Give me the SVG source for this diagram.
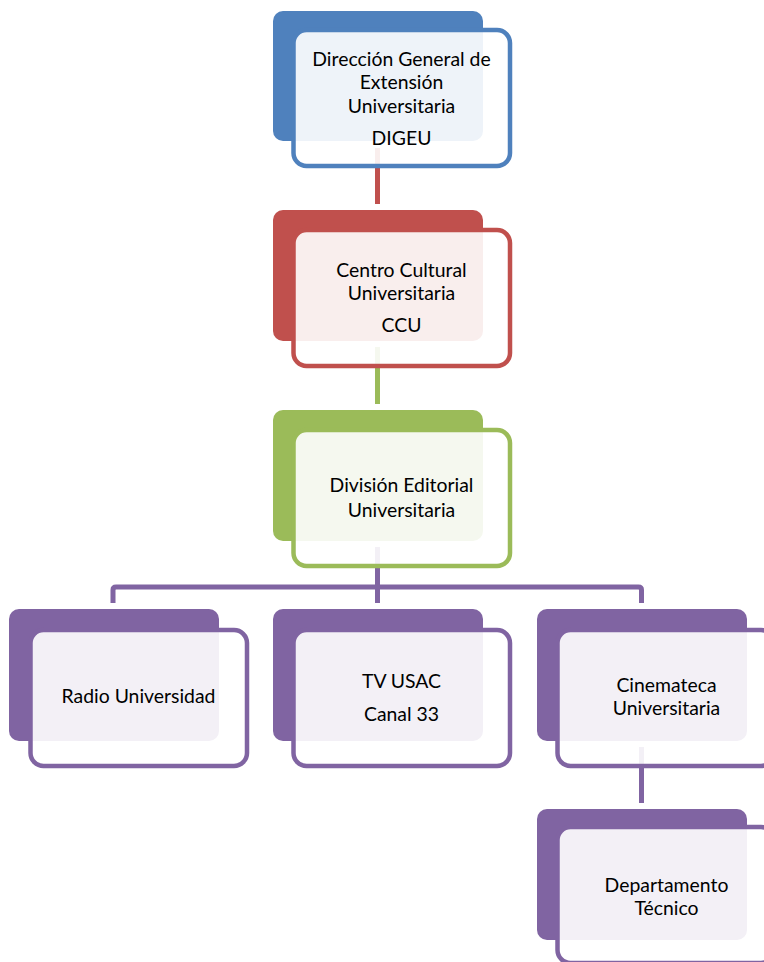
<svg xmlns="http://www.w3.org/2000/svg" width="764" height="962" viewBox="0 0 764 962">
<style>
.back{stroke:none}
.front{fill:#ffffff;fill-opacity:0.9;stroke-width:4.5}
.conn{fill:none;stroke-width:5;stroke-linejoin:round}
text{font-family:Lato,"Open Sans","Liberation Sans",sans-serif;font-size:19.4px;fill:#000;text-anchor:middle}
.blue .back{fill:#4F81BD}.blue .front{stroke:#4F81BD}
.red .back{fill:#C0504D}.red .front{stroke:#C0504D}
.green .back{fill:#9BBB59}.green .front{stroke:#9BBB59}
.purple .back{fill:#8064A2}.purple .front{stroke:#8064A2}
</style>
<rect width="764" height="962" fill="#ffffff"/>
<g id="connectors">
<path class="conn" stroke="#C0504D" d="M377.5 148V204"/>
<path class="conn" stroke="#9BBB59" d="M377.5 347V404"/>
<path class="conn" stroke="#8064A2" d="M377.5 547V603M113 603V590Q113 587 116 587H638.5Q641.5 587 641.5 590V603"/>
<path class="conn" stroke="#8064A2" d="M641.5 747V803"/>
</g>
<g id="n1" class="blue">
<rect class="back" x="273" y="11" width="210" height="130" rx="10"/>
<rect class="front" x="293.5" y="30" width="216.5" height="136" rx="13"/>
<text x="401.5" y="66">Dirección General de</text>
<text x="401.5" y="89">Extensión</text>
<text x="401.5" y="113">Universitaria</text>
<text x="401.5" y="145">DIGEU</text>
</g>
<g id="n2" class="red">
<rect class="back" x="273" y="210" width="210" height="131" rx="10"/>
<rect class="front" x="293.5" y="230" width="216.5" height="136" rx="13"/>
<text x="401.5" y="277">Centro Cultural</text>
<text x="401.5" y="300">Universitaria</text>
<text x="401.5" y="332">CCU</text>
</g>
<g id="n3" class="green">
<rect class="back" x="273" y="410" width="210" height="131" rx="10"/>
<rect class="front" x="293.5" y="430" width="216.5" height="136" rx="13"/>
<text x="401.5" y="492">División Editorial</text>
<text x="401.5" y="517">Universitaria</text>
</g>
<g id="n4" class="purple">
<rect class="back" x="9" y="609" width="210" height="132" rx="10"/>
<rect class="front" x="30.5" y="630" width="216.5" height="136" rx="13"/>
<text x="138.5" y="703">Radio Universidad</text>
</g>
<g id="n5" class="purple">
<rect class="back" x="273" y="609" width="210" height="132" rx="10"/>
<rect class="front" x="293.5" y="630" width="216.5" height="136" rx="13"/>
<text x="401.5" y="688">TV USAC</text>
<text x="401.5" y="721">Canal 33</text>
</g>
<g id="n6" class="purple">
<rect class="back" x="537" y="609" width="210" height="132" rx="10"/>
<rect class="front" x="557.5" y="630" width="216.5" height="136" rx="13"/>
<text x="666.5" y="692">Cinemateca</text>
<text x="666.5" y="715">Universitaria</text>
</g>
<g id="n7" class="purple">
<rect class="back" x="537" y="809" width="210" height="131" rx="10"/>
<rect class="front" x="557.5" y="827" width="216.5" height="136" rx="13"/>
<text x="666.5" y="892">Departamento</text>
<text x="666.5" y="915">Técnico</text>
</g>
</svg>
